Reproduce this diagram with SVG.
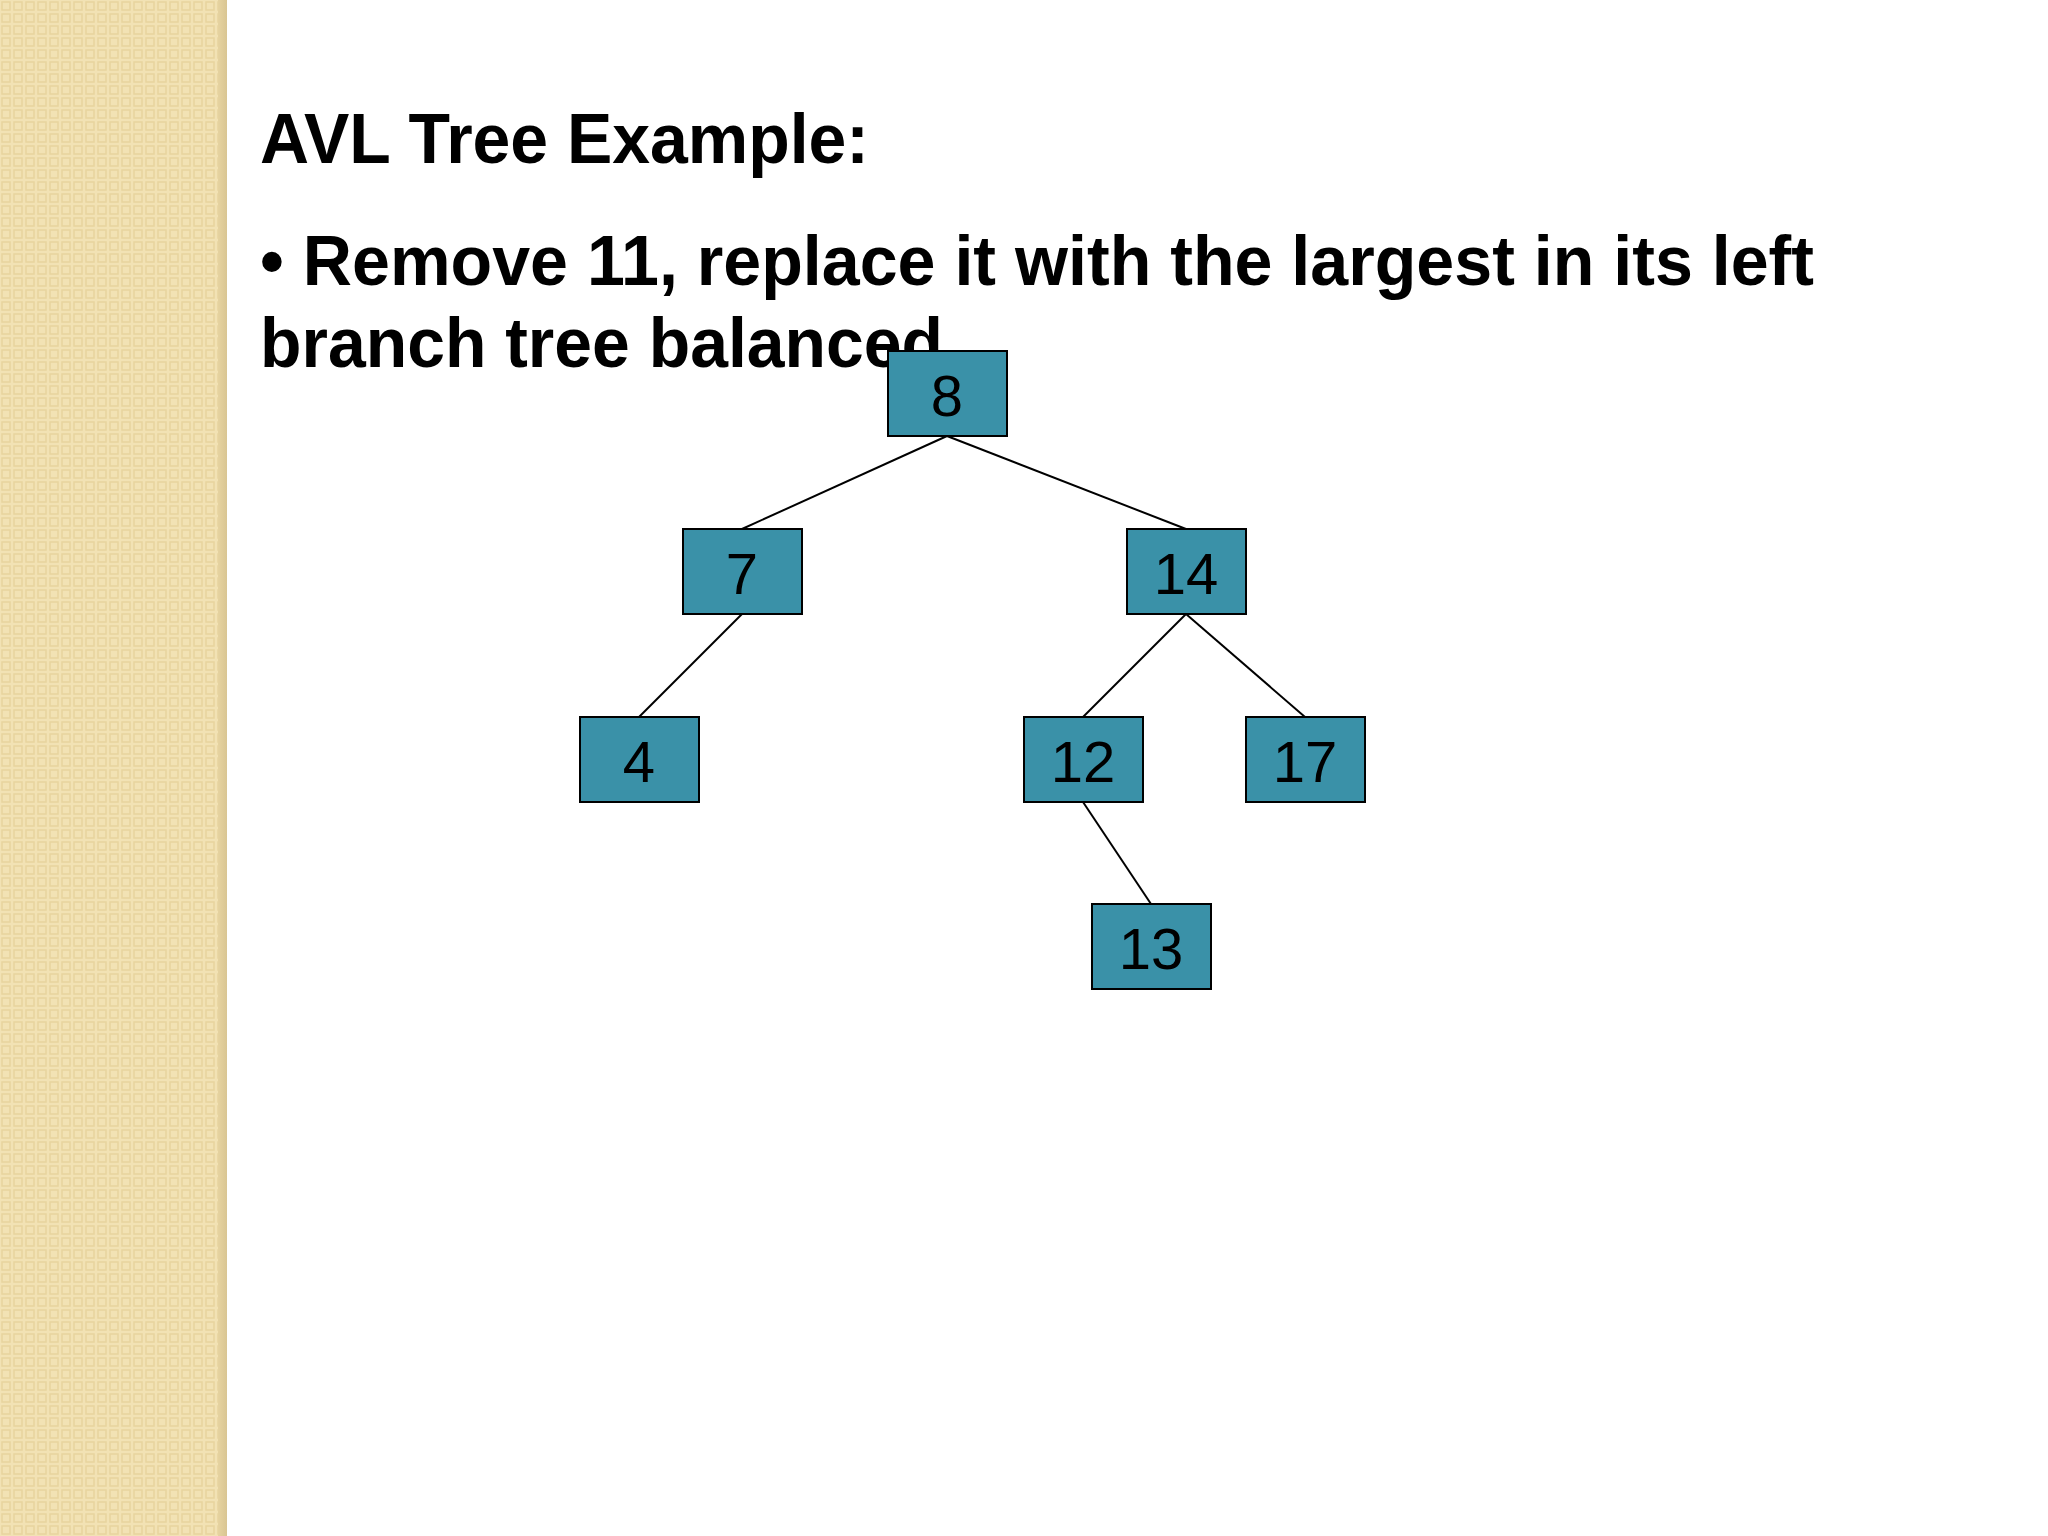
<svg xmlns="http://www.w3.org/2000/svg" width="2048" height="1536" viewBox="0 0 2048 1536">
<style>
.n{fill:#3a91a8;stroke:#000;stroke-width:2}
.t{font-family:"Liberation Sans",Arial,sans-serif;font-size:58px;text-anchor:middle;fill:#000}
.h{font-family:"Liberation Sans",Arial,sans-serif;font-weight:bold;font-size:71px;fill:#000}
.e{stroke:#000;stroke-width:2;fill:none}
</style>
<defs>
<pattern id="p" width="12" height="12" patternUnits="userSpaceOnUse">
<rect width="12" height="12" fill="#f2e2b4"/>
<rect x="2" y="2" width="8" height="8" fill="none" stroke="#e8d49e" stroke-width="1.5"/>
</pattern>
<linearGradient id="g" x1="0" x2="1"><stop offset="0" stop-color="#e6d3a0"/><stop offset="1" stop-color="#d9c592"/></linearGradient>
</defs>
<rect width="2048" height="1536" fill="#fff"/>
<rect width="220" height="1536" fill="url(#p)"/>
<rect x="218" width="9" height="1536" fill="url(#g)"/>
<text class="h" x="260" y="163" textLength="609" lengthAdjust="spacingAndGlyphs">AVL Tree Example:</text>
<text class="h" x="260" y="285" textLength="1554" lengthAdjust="spacingAndGlyphs">• Remove 11, replace it with the largest in its left</text>
<text class="h" x="260" y="367" textLength="683" lengthAdjust="spacingAndGlyphs">branch tree balanced</text>
<g id="edges">
<line class="e" x1="947" y1="436" x2="742" y2="529"/>
<line class="e" x1="947" y1="436" x2="1186" y2="529"/>
<line class="e" x1="742" y1="614" x2="639" y2="717"/>
<line class="e" x1="1186" y1="614" x2="1083" y2="717"/>
<line class="e" x1="1186" y1="614" x2="1305" y2="717"/>
<line class="e" x1="1083" y1="802" x2="1151" y2="904"/>
</g>
<g id="n8"><rect class="n" x="888" y="351" width="119" height="85"/><text class="t" x="947" y="416">8</text></g>
<g id="n7"><rect class="n" x="683" y="529" width="119" height="85"/><text class="t" x="742" y="594">7</text></g>
<g id="n14"><rect class="n" x="1127" y="529" width="119" height="85"/><text class="t" x="1186" y="594">14</text></g>
<g id="n4"><rect class="n" x="580" y="717" width="119" height="85"/><text class="t" x="639" y="782">4</text></g>
<g id="n12"><rect class="n" x="1024" y="717" width="119" height="85"/><text class="t" x="1083" y="782">12</text></g>
<g id="n17"><rect class="n" x="1246" y="717" width="119" height="85"/><text class="t" x="1305" y="782">17</text></g>
<g id="n13"><rect class="n" x="1092" y="904" width="119" height="85"/><text class="t" x="1151" y="969">13</text></g>
</svg>
